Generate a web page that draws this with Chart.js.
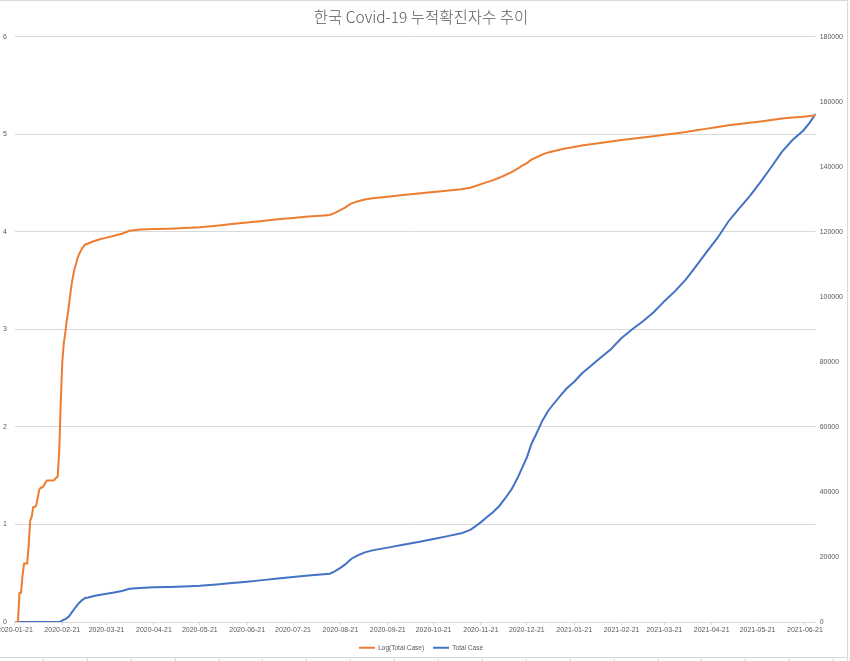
<!DOCTYPE html>
<html>
<head>
<meta charset="utf-8">
<script src="https://cdn.jsdelivr.net/npm/chart.js@4"></script>
<style>
  html, body { margin: 0; padding: 0; background: #fff; overflow: hidden; }
  #wrap { position: absolute; left: -4px; top: 0; width: 852px; height: 661px;
          border-top: 1px solid #d9d9d9; border-right: 1px solid #d9d9d9;
          box-sizing: border-box; background: #fff; }
  #edge { position: absolute; left: 0; top: 657px; width: 848px; height: 1px; background: #d9d9d9; }
  #cells { position: absolute; left: 0; top: 658px; width: 850px; height: 3px;
           background-image: repeating-linear-gradient(to right, transparent 0, transparent 42.9px, #d9d9d9 42.9px, #d9d9d9 43.9px);
           background-position: -0.2px 0; }
</style>
</head>
<body>
<div id="wrap"><canvas id="myChart"></canvas></div>
<div id="edge"></div>
<div id="cells"></div>
<script>
// dates of the samples
const dates = [
  '2020-01-21','2020-01-22','2020-01-23','2020-01-24','2020-01-25','2020-01-26','2020-01-27','2020-01-28',
  '2020-01-29','2020-01-30','2020-01-31','2020-02-01','2020-02-02','2020-02-03','2020-02-04','2020-02-05',
  '2020-02-06','2020-02-07','2020-02-08','2020-02-09','2020-02-10','2020-02-11','2020-02-15','2020-02-16',
  '2020-02-17','2020-02-18','2020-02-19','2020-02-20','2020-02-21','2020-02-22','2020-02-23','2020-02-24',
  '2020-02-25','2020-02-26','2020-02-27','2020-02-28','2020-02-29','2020-03-01','2020-03-02','2020-03-03',
  '2020-03-04','2020-03-05','2020-03-06','2020-03-07','2020-03-09','2020-03-12','2020-03-16','2020-03-21',
  '2020-03-26','2020-03-31','2020-04-05','2020-04-12','2020-04-21','2020-05-01','2020-05-11','2020-05-21',
  '2020-06-01','2020-06-11','2020-06-21','2020-07-01','2020-07-11','2020-07-21','2020-07-31','2020-08-08',
  '2020-08-14','2020-08-17','2020-08-21','2020-08-24','2020-08-28','2020-09-01','2020-09-06','2020-09-11',
  '2020-09-21','2020-10-01','2020-10-11','2020-10-21','2020-10-31','2020-11-08','2020-11-14','2020-11-18',
  '2020-11-21','2020-11-25','2020-11-29','2020-12-03','2020-12-07','2020-12-11','2020-12-15','2020-12-18',
  '2020-12-21','2020-12-24','2020-12-27','2020-12-31','2021-01-04','2021-01-08','2021-01-12','2021-01-16',
  '2021-01-21','2021-01-26','2021-02-01','2021-02-07','2021-02-14','2021-02-21','2021-02-28','2021-03-07',
  '2021-03-14','2021-03-21','2021-03-28','2021-04-04','2021-04-11','2021-04-18','2021-04-25','2021-05-02',
  '2021-05-09','2021-05-16','2021-05-23','2021-05-30','2021-06-06','2021-06-13','2021-06-20','2021-06-24',
  '2021-06-28'
];

const totalCase = [
  1, 1, 1, 2, 2, 3, 4, 4,
  4, 6, 11, 12, 15, 15, 16, 19,
  23, 24, 24, 25, 27, 28, 28, 29,
  30, 31, 56, 178, 457, 724, 933, 1259,
  1585, 2138, 2818, 3467, 4169, 4677, 5370, 5888,
  6310, 6761, 7079, 7413, 7590, 7943, 8320, 8710,
  9120, 9550, 10237, 10512, 10683, 10774, 10909, 11142,
  11541, 12003, 12438, 12904, 13417, 13879, 14336, 14626,
  14873, 15515, 16670, 17665, 19400, 20449, 21432, 22055,
  22893, 23812, 24606, 25543, 26511, 27284, 28338, 29654,
  30733, 32318, 33824, 35703, 38161, 40786, 44364, 47515,
  50591, 54770, 57680, 61769, 64979, 67358, 69651, 71820,
  73918, 76429, 78844, 81185, 83869, 87324, 90029, 92471,
  95283, 98665, 101757, 105279, 109559, 113973, 118243, 123240,
  127172, 131061, 135344, 139910, 144637, 148274, 151149, 153500,
  156300
];

const logTotalCase = [
  0, 0, 0, 0.30, 0.30, 0.48, 0.60, 0.60,
  0.60, 0.78, 1.04, 1.08, 1.18, 1.18, 1.20, 1.28,
  1.36, 1.38, 1.38, 1.40, 1.43, 1.45, 1.45, 1.46,
  1.48, 1.49, 1.75, 2.25, 2.66, 2.86, 2.97, 3.10,
  3.20, 3.33, 3.45, 3.54, 3.62, 3.67, 3.73, 3.77,
  3.80, 3.83, 3.85, 3.87, 3.880, 3.900, 3.920, 3.940,
  3.960, 3.980, 4.010, 4.022, 4.029, 4.032, 4.038, 4.047,
  4.062, 4.079, 4.095, 4.111, 4.128, 4.142, 4.156, 4.165,
  4.172, 4.191, 4.222, 4.247, 4.288, 4.311, 4.331, 4.343,
  4.360, 4.377, 4.391, 4.407, 4.423, 4.436, 4.452, 4.472,
  4.488, 4.509, 4.529, 4.553, 4.582, 4.611, 4.647, 4.677,
  4.704, 4.739, 4.761, 4.791, 4.813, 4.828, 4.843, 4.856,
  4.869, 4.883, 4.897, 4.909, 4.924, 4.941, 4.954, 4.966,
  4.979, 4.994, 5.008, 5.022, 5.040, 5.057, 5.073, 5.091,
  5.104, 5.117, 5.131, 5.146, 5.160, 5.171, 5.179, 5.186,
  5.194
];

const tickLabels = [
  '2020-01-21','2020-02-21','2020-03-21','2020-04-21','2020-05-21','2020-06-21',
  '2020-07-21','2020-08-21','2020-09-21','2020-10-21','2020-11-21','2020-12-21',
  '2021-01-21','2021-02-21','2021-03-21','2021-04-21','2021-05-21','2021-06-21'
];

const start = Date.parse(dates[0]);
function dayOf(d) {
    return Math.round((Date.parse(d) - start) / 86400000);
}

const logPoints = dates.map((d, i) => ({ x: dayOf(d), y: logTotalCase[i] }));
const casePoints = dates.map((d, i) => ({ x: dayOf(d), y: totalCase[i] }));
const tickDays = tickLabels.map(dayOf);

const grey = '#595959';
const small = { family: "'Liberation Sans', Arial, sans-serif", size: 7 };

let ctx = document.getElementById('myChart').getContext('2d');
let chart = new Chart(ctx, {
    type: 'line',
    data: {
        datasets: [{
            label: 'Log(Total Case)',
            data: logPoints,
            yAxisID: 'yLog',
            borderColor: '#ED7D31',
            backgroundColor: '#ED7D31',
            borderWidth: 2,
            pointRadius: 0,
        }, {
            label: 'Total Case',
            data: casePoints,
            yAxisID: 'yCase',
            borderColor: '#4472C4',
            backgroundColor: '#4472C4',
            borderWidth: 2,
            pointRadius: 0,
        }],
    },
    options: {
        animation: false,
        responsive: true,
        maintainAspectRatio: false,
        layout: { padding: { left: -1, right: 0, top: 0, bottom: 0 } },
        plugins: {
            title: {
                display: true,
                text: '한국 Covid-19 누적확진자수 추이',
                color: grey,
                font: { family: "'Noto Sans CJK KR', sans-serif", size: 15.5, weight: 300 },
                padding: { top: 7, bottom: 10 },
            },
            legend: {
                position: 'bottom',
                labels: {
                    boxWidth: 16, boxHeight: 0, color: grey, padding: 9,
                    font: { family: "'Liberation Sans', Arial, sans-serif", size: 6.5 },
                },
            },
            tooltip: { enabled: false },
        },
        scales: {
            x: {
                type: 'linear',
                min: 0,
                max: dayOf(dates[dates.length - 1]),
                afterBuildTicks: axis => { axis.ticks = tickDays.map(v => ({ value: v })); },
                ticks: {
                    autoSkip: false,
                    maxRotation: 0,
                    padding: 1,
                    color: grey,
                    font: small,
                    callback: (v, i) => tickLabels[i],
                },
                grid: { drawOnChartArea: false, tickLength: 3, color: '#d9d9d9' },
                border: { color: '#d9d9d9' },
            },
            yLog: {
                position: 'left',
                min: 0,
                max: 6,
                ticks: { stepSize: 1, padding: 8, color: grey, font: small },
                grid: { color: '#d9d9d9', drawTicks: false },
                border: { display: false },
            },
            yCase: {
                position: 'right',
                min: 0,
                max: 180000,
                ticks: { stepSize: 20000, padding: 4, color: grey, font: small, callback: v => String(v) },
                grid: { display: false, drawTicks: false },
                border: { display: false },
            },
        },
    },
});
</script>
</body>
</html>
